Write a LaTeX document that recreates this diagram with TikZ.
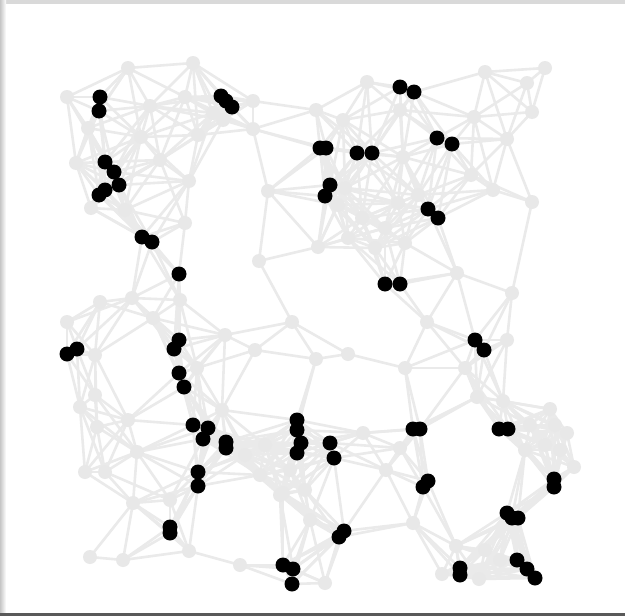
\documentclass[tikz,border=0pt]{standalone}
\begin{document}
\begin{tikzpicture}[x=1pt,y=-1pt,
  edge/.style={draw=edgegray,line width=2.6pt},
  graynode/.style={circle,fill=nodegray,inner sep=0pt,minimum size=14pt},
  blacknode/.style={circle,fill=black,inner sep=0pt,minimum size=15pt}]
\definecolor{edgegray}{HTML}{EAEAEA}
\definecolor{nodegray}{HTML}{E8E8E8}
\useasboundingbox (0,0) rectangle (625,616);
\fill[white] (0,0) rectangle (625,616);
% frame
\fill[gray!30] (0,0) rectangle (625,4);
\shade[left color=gray!45,right color=white] (0,0) rectangle (6,616);
\fill[gray!70!black] (0,613) rectangle (625,616);
\def\graypts{67/97,128/68,193/63,150/106,185/97,253/101,316/110,141/137,198/135,213/113,253/129,76/163,189/181,91/208,185/223,268/191,223/120,88/128,160/160,125/210,
367/82,343/120,485/72,545/68,527/83,474/117,532/112,507/139,403/157,471/175,493/190,532/202,318/247,457/273,512/293,400/110,
338/205,362/218,385/228,398/203,348/238,375/248,405/243,345/188,418/195,
259/261,292/322,225/335,255/350,316/359,348/354,427/322,507/340,405/368,465/368,
100/302,132/298,67/322,95/355,153/318,180/300,80/407,95/395,128/420,137/452,85/472,105/472,133/503,90/557,123/560,189/551,240/565,222/410,197/368,170/500,283/493,97/427,
363/433,400/448,386/470,280/495,413/523,456/546,442/574,479/579,325/583,245/455,265/445,260/475,290/470,305/490,310/520,
477/397,503/401,550/409,567/433,574/467,530/425,545/445,525/450,555/425,560/450,500/560,485/550}
\def\blackpts{100/97,99/111,221/96,226/101,232/107,105/162,114/172,119/185,105/190,99/195,142/237,152/242,179/274,400/87,414/92,320/148,326/148,357/153,372/153,437/138,452/144,330/185,325/196,428/209,438/218,385/284,400/284,67/354,77/349,179/340,174/349,179/373,184/387,193/425,208/428,203/439,226/442,226/448,198/472,198/486,170/527,170/533,297/420,297/430,301/443,297/453,283/565,293/569,292/584,330/443,334/458,413/429,420/429,499/429,508/429,428/481,423/487,554/479,554/487,507/513,512/518,518/518,344/531,339/537,460/568,460/575,517/560,527/569,535/578,475/340,484/350}
\edef\allpts{\graypts,\blackpts}
% coordinates of all graph vertices
\foreach \x/\y [count=\i] in \allpts {\coordinate (p\i) at (\x,\y);}
% edges: vertices closer than 76 units
\foreach \xa/\ya [count=\i] in \allpts {
  \foreach \xb/\yb [count=\j] in \allpts {
    \ifnum\j>\i
      \ifnum\numexpr(\xa-\xb)*(\xa-\xb)+(\ya-\yb)*(\ya-\yb)\relax<5776
        \draw[edge] (p\i) -- (p\j);
      \fi
    \fi
  }
}
% one longer edge on the right
\draw[edge] (p32) -- (p35);
% gray vertices
\foreach \x/\y [count=\i] in \graypts {\node[graynode] (g\i) at (\x,\y) {};}
% highlighted vertices
\foreach \x/\y [count=\i] in \blackpts {\node[blacknode] (b\i) at (\x,\y) {};}
\end{tikzpicture}
\end{document}
